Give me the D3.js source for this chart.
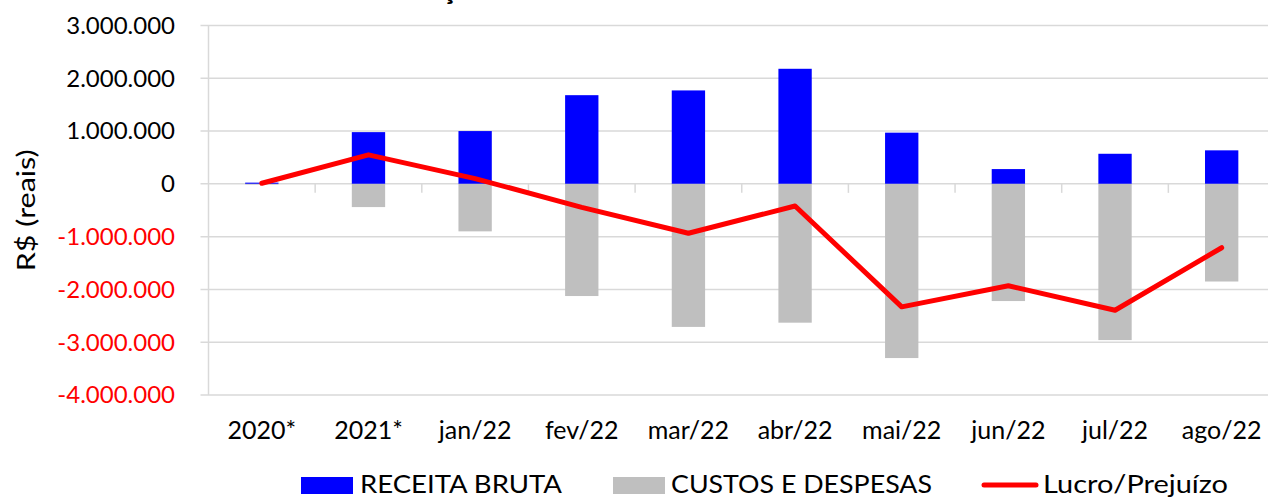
<!DOCTYPE html>
<html>
<head>
<meta charset="utf-8">
<script src="https://cdn.jsdelivr.net/npm/d3@7"></script>
<style>
  html, body { margin: 0; padding: 0; background: #fff; }
  svg { display: block; font-family: Lato, "Liberation Sans", sans-serif; }
</style>
</head>
<body>
<svg id="chart" width="1268" height="498"></svg>
<script>
// data
var categories = ["2020*", "2021*", "jan/22", "fev/22", "mar/22", "abr/22", "mai/22", "jun/22", "jul/22", "ago/22"];
var receita = [23000, 980000, 1000000, 1680000, 1770000, 2180000, 970000, 280000, 570000, 635000];
var custos = [-12000, -440000, -900000, -2125000, -2710000, -2630000, -3300000, -2220000, -2960000, -1850000];
var lucro = [11000, 550000, 100000, -445000, -935000, -420000, -2330000, -1930000, -2395000, -1210000];
var yTicks = [3000000, 2000000, 1000000, 0, -1000000, -2000000, -3000000, -4000000];
var seriesNames = ["RECEITA BRUTA", "CUSTOS E DESPESAS", "Lucro/Prejuízo"];

var svg = d3.select("#chart");
var plot = {left: 208.5, right: 1275, top: 25.5, bottom: 395};

var x = d3.scaleBand().domain(categories).range([plot.left, plot.right]);
var y = d3.scaleLinear().domain([-4000000, 3000000]).range([plot.bottom, plot.top]);
var barW = x.bandwidth() * 0.3125;

var br = d3.formatLocale({decimal: ",", thousands: ".", grouping: [3], currency: ["R$", ""], minus: "-"});
var fmt = br.format(",.0f");

// title, sits above the picture edge, only the cedilla peeks in
var title = svg.append("text")
    .attr("y", -1)
    .attr("font-weight", "bold")
    .attr("font-size", 28)
    .text("EVOLUÇÃO DO RESULTADO");
var cIdx = title.text().indexOf("Ç");
var pre = title.node().getSubStringLength(0, cIdx);
var cw = title.node().getSubStringLength(cIdx, 1);
title.attr("x", 448 - pre - cw / 2);

// gridlines
svg.append("g")
    .selectAll("line")
    .data(yTicks)
    .join("line")
    .attr("x1", plot.left - 8)
    .attr("x2", 1268)
    .attr("y1", d => y(d))
    .attr("y2", d => y(d))
    .attr("stroke", "#d9d9d9")
    .attr("stroke-width", 1.5);

// left axis line
svg.append("line")
    .attr("x1", plot.left).attr("x2", plot.left)
    .attr("y1", plot.top).attr("y2", plot.bottom)
    .attr("stroke", "#d9d9d9")
    .attr("stroke-width", 1.5);

// category separator ticks on the zero line
svg.append("g")
    .selectAll("line")
    .data(categories.slice(1))
    .join("line")
    .attr("x1", d => x(d))
    .attr("x2", d => x(d))
    .attr("y1", y(0))
    .attr("y2", y(0) + 9)
    .attr("stroke", "#d9d9d9")
    .attr("stroke-width", 1.5);

// y tick labels
svg.append("g")
    .selectAll("text")
    .data(yTicks)
    .join("text")
    .attr("x", 175)
    .attr("y", d => y(d))
    .attr("dy", "0.35em")
    .attr("text-anchor", "end")
    .attr("font-size", 24)
    .attr("fill", d => d < 0 ? "#ff0000" : "#000")
    .text(d => fmt(d));

// y axis title
svg.append("text")
    .attr("transform", `translate(35,${(plot.top + plot.bottom) / 2}) rotate(-90)`)
    .attr("text-anchor", "middle")
    .attr("font-size", 25)
    .attr("textLength", 122)
    .attr("lengthAdjust", "spacingAndGlyphs")
    .text("R$ (reais)");

// x labels
svg.append("g")
    .selectAll("text")
    .data(categories)
    .join("text")
    .attr("x", d => x(d) + x.bandwidth() / 2)
    .attr("y", 439)
    .attr("text-anchor", "middle")
    .attr("font-size", 25)
    .text(d => d);

// bars
svg.append("g")
    .selectAll("rect")
    .data(receita)
    .join("rect")
    .attr("x", (d, i) => x(categories[i]) + x.bandwidth() / 2 - barW / 2)
    .attr("y", d => y(d))
    .attr("width", barW)
    .attr("height", d => y(0) - y(d))
    .attr("fill", "#0000ff");

svg.append("g")
    .selectAll("rect")
    .data(custos)
    .join("rect")
    .attr("x", (d, i) => x(categories[i]) + x.bandwidth() / 2 - barW / 2)
    .attr("y", y(0))
    .attr("width", barW)
    .attr("height", d => y(d) - y(0))
    .attr("fill", "#bfbfbf");

// profit line
var line = d3.line()
    .x((d, i) => x(categories[i]) + x.bandwidth() / 2)
    .y(d => y(d));

svg.append("path")
    .datum(lucro)
    .attr("d", line)
    .attr("fill", "none")
    .attr("stroke", "#ff0000")
    .attr("stroke-width", 5)
    .attr("stroke-linejoin", "round")
    .attr("stroke-linecap", "round");

// legend
var legend = svg.append("g");
var lx = [301, 613, 982];
var tx = [360, 671, 1043];
var tw = [202, 261, 185];

legend.append("rect").attr("x", lx[0]).attr("y", 477).attr("width", 52).attr("height", 17).attr("fill", "#0000ff");
legend.append("rect").attr("x", lx[1]).attr("y", 477).attr("width", 52).attr("height", 17).attr("fill", "#bfbfbf");
legend.append("line")
    .attr("x1", lx[2] + 2).attr("x2", 1036)
    .attr("y1", 485).attr("y2", 485)
    .attr("stroke", "#ff0000").attr("stroke-width", 5).attr("stroke-linecap", "round");

legend.selectAll("text")
    .data(seriesNames)
    .join("text")
    .attr("x", (d, i) => tx[i])
    .attr("y", 493)
    .attr("font-size", 25)
    .attr("textLength", (d, i) => tw[i])
    .attr("lengthAdjust", "spacingAndGlyphs")
    .text(d => d);
</script>
</body>
</html>
